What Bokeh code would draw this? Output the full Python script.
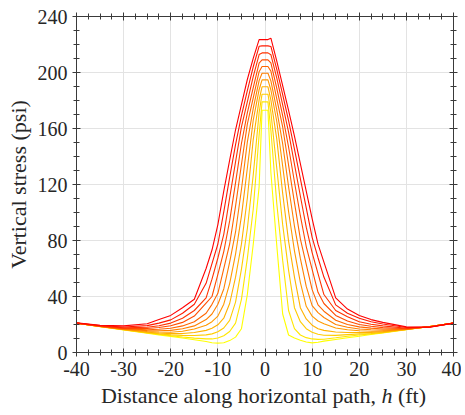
from bokeh.plotting import figure
from bokeh.models import LinearAxis, FixedTicker, Range1d, Div, CustomJSTickFormatter
from bokeh.layouts import column
from bokeh.embed import file_html
from bokeh.resources import INLINE

# horizontal position along path, h (ft)
h_ft = [-40, -35, -30, -25, -22.5, -20, -17.5, -15, -12.5, -11.25, -10, -8.75, -7.5, -6.25, -5, -3.75, -2.5, -1.25, -0.625,
        0.625, 1.25, 2.5, 3.75, 5, 6.25, 7.5, 8.75, 10, 11.25, 12.5, 15, 17.5, 20, 22.5, 25, 30, 35, 40]

# vertical stress (psi), one series per curve, red (outer) -> yellow (inner)
stress_01 = [21.2, 19.5, 19, 20.5, 23.5, 26.5, 32, 38, 60, 73.2, 91.4, 115.2, 137.4, 159.1, 177.1, 195, 210.1, 223.5, 223.5,
             223.5, 224.5, 208.2, 190.7, 172.9, 154.5, 134.9, 115.3, 95.7, 77.4, 64.6, 39, 31, 26.5, 23.5, 21.5, 18.3, 18, 21]
stress_02 = [21.1, 19.2, 18.2, 19.2, 21, 23.3, 28, 34.5, 49.4, 63.5, 77.5, 100.5, 125.1, 148.5, 169.2, 187.1, 204.1, 218.7, 219,
             219, 218.6, 202.3, 184.2, 165.6, 145.3, 124.2, 103.3, 82.3, 67.7, 53.9, 34, 28, 24.5, 22, 20.3, 17.8, 18.2, 21]
stress_03 = [21, 19, 17.6, 18, 19.1, 21, 24.5, 30, 39, 52.4, 67.5, 84.4, 110.4, 136.1, 161.2, 179.1, 197.1, 212.8, 214,
             214, 212.7, 195.9, 176.9, 157.4, 134.5, 111.8, 89.5, 71.4, 56.4, 41.4, 30, 25.5, 22, 20.2, 19, 17.3, 18.3, 21]
stress_04 = [21, 18.8, 17.1, 17.1, 17.9, 19.1, 21.5, 26, 35.3, 40, 55.8, 72.1, 94, 121.3, 149.3, 171.1, 189.2, 206.7, 209,
             209, 206.8, 188.6, 169.2, 146.8, 121.8, 97.7, 75.7, 59.3, 43, 35, 26.5, 22.5, 20, 18.7, 17.8, 17, 18.4, 21]
stress_05 = [21, 18.7, 16.9, 16.3, 16.6, 17.3, 19, 22, 28, 34.4, 42.3, 59.9, 77.5, 104.6, 134.3, 163.1, 181.8, 200.6, 204.3,
             204.3, 201, 181.2, 161.1, 133.9, 107.1, 81.2, 62.9, 44.9, 34, 29.5, 23, 20, 18.3, 17.4, 16.8, 16.8, 18.5, 21]
stress_06 = [21, 18.6, 16.7, 15.6, 15.5, 15.8, 17, 19, 23.5, 27.5, 34.5, 45.4, 64.6, 86.1, 116.4, 150.3, 174.3, 194.2, 199.5,
             199.5, 194, 173.3, 149, 118.4, 90.2, 67.2, 47.2, 33.5, 28.5, 25, 20, 18, 16.8, 16.2, 16, 16.6, 18.5, 21]
stress_07 = [21, 18.6, 16.5, 15, 14.6, 14.5, 15.2, 16.8, 19.5, 22, 26, 34.5, 49.2, 70.3, 97.4, 131.6, 165.9, 187.7, 194.7,
             194.7, 187.5, 165, 133.1, 100.7, 72.6, 50.1, 33, 26, 22.5, 20.5, 17.5, 16.3, 15.5, 15.2, 15.3, 16.5, 18.6, 21]
stress_08 = [21, 18.6, 16.4, 14.5, 13.9, 13.5, 13.6, 14.3, 15.8, 17.3, 19.8, 24.5, 35, 53.8, 77.4, 110.2, 152.1, 180.5, 189.8,
             189.8, 180.3, 152.4, 113.7, 79.6, 53.8, 32, 24, 19.5, 17, 15.8, 14.6, 14.3, 14.3, 14.4, 14.7, 16.4, 18.6, 21]
stress_09 = [21, 18.6, 16.3, 14.2, 13.3, 12.6, 12.2, 12.1, 12.6, 13.3, 14.8, 17.5, 23, 36, 59.6, 88.4, 126.8, 171.3, 184.5,
             184.5, 171.5, 131.6, 91.3, 58.8, 32, 22, 17, 14.5, 13, 12.3, 12.2, 12.8, 13.3, 13.6, 14.3, 16.4, 18.6, 21]
stress_10 = [21, 18.6, 16.3, 14, 13, 12, 11.1, 10.3, 9.7, 9.7, 10.3, 12, 15, 21, 38, 67.1, 102.3, 155.3, 179,
             179, 158.7, 106.4, 65.8, 30, 17, 12.5, 10.6, 9.7, 9.4, 9.5, 10.5, 11.6, 12.5, 13.3, 14.2, 16.4, 18.6, 21]
stress_11 = [21, 18.5, 16.1, 13.8, 12.6, 11.5, 10.3, 9.1, 7.8, 7, 6.7, 7, 8.5, 11, 17, 41.4, 77.1, 118.3, 173,
             173, 128.6, 76.4, 27.5, 12.5, 10.3, 8.7, 7.5, 6.9, 7.3, 8.1, 9.3, 10.5, 11.6, 12.8, 14, 16.3, 18.6, 21]

curves = [stress_01, stress_02, stress_03, stress_04, stress_05, stress_06,
          stress_07, stress_08, stress_09, stress_10, stress_11]

x_ticks = [-40, -30, -20, -10, 0, 10, 20, 30, 40]
x_tick_labels = ["-40", "-30", "-20", "-10", "0", "10", "20", "30", "40"]
y_ticks = [0, 40, 80, 120, 160, 200, 240]
y_tick_labels = ["0", "40", "80", "120", "160", "200", "240"]
x_minor = [-40 + 2.5 * k for k in range(33)]
y_minor = [10 * k for k in range(25)]

FONT = "Liberation Serif"
AXC = "#3a3a3a"
TXT = "#262626"

p = figure(frame_width=377, frame_height=336, output_backend="svg", toolbar_location=None,
           x_range=Range1d(-40, 40), y_range=Range1d(0, 240),
           min_border_left=76, min_border_right=8, min_border_top=16, min_border_bottom=32)
p.background_fill_color = "white"
p.border_fill_color = "white"
p.outline_line_color = AXC

n = len(curves)
for i in reversed(range(n)):
    g = int(round(255 * i / (n - 1)))
    color = "#%02x%02x%02x" % (255, g, 0)
    p.line(h_ft, curves[i], line_color=color, line_width=1.1)

def style_axis(ax, ticks, minor, labels, show_labels):
    ax.ticker = FixedTicker(ticks=ticks, minor_ticks=minor)
    ax.axis_line_color = AXC
    ax.major_tick_line_color = AXC
    ax.minor_tick_line_color = AXC
    ax.major_tick_in = 4
    ax.major_tick_out = 4
    ax.minor_tick_in = 3
    ax.minor_tick_out = 3
    if show_labels:
        ax.major_label_overrides = {t: l for t, l in zip(ticks, labels)}
        ax.major_label_text_font = FONT
        ax.major_label_text_font_size = "20px"
        ax.major_label_text_color = TXT
        ax.major_label_standoff = 5
    else:
        ax.formatter = CustomJSTickFormatter(code="return ''")
        ax.major_label_standoff = 0

style_axis(p.xaxis[0], x_ticks, x_minor, x_tick_labels, True)
style_axis(p.yaxis[0], y_ticks, y_minor, y_tick_labels, True)
p.yaxis[0].axis_label = "Vertical stress (psi)"
p.yaxis[0].axis_label_text_font = FONT
p.yaxis[0].axis_label_text_font_size = "22px"
p.yaxis[0].axis_label_text_font_style = "normal"
p.yaxis[0].axis_label_text_color = TXT
p.yaxis[0].axis_label_standoff = 4

top_ax = LinearAxis()
right_ax = LinearAxis()
style_axis(top_ax, x_ticks, x_minor, x_tick_labels, False)
style_axis(right_ax, y_ticks, y_minor, y_tick_labels, False)
p.add_layout(top_ax, "above")
p.add_layout(right_ax, "right")

p.xgrid.ticker = FixedTicker(ticks=x_ticks)
p.ygrid.ticker = FixedTicker(ticks=y_ticks)
p.xgrid.grid_line_color = "#e3e3e3"
p.ygrid.grid_line_color = "#e3e3e3"

# x-axis label with italic h
xlabel = Div(text="Distance along horizontal path, <i>h</i> (ft)", width=461, height=26,
             styles={"font-family": FONT, "font-size": "22px", "line-height": "14px",
                     "color": TXT, "text-align": "center", "padding-left": "56px",
                     "box-sizing": "border-box", "white-space": "nowrap"})

layout = column(p, xlabel, spacing=0)
open("out.html", "w").write(file_html(layout, INLINE))
